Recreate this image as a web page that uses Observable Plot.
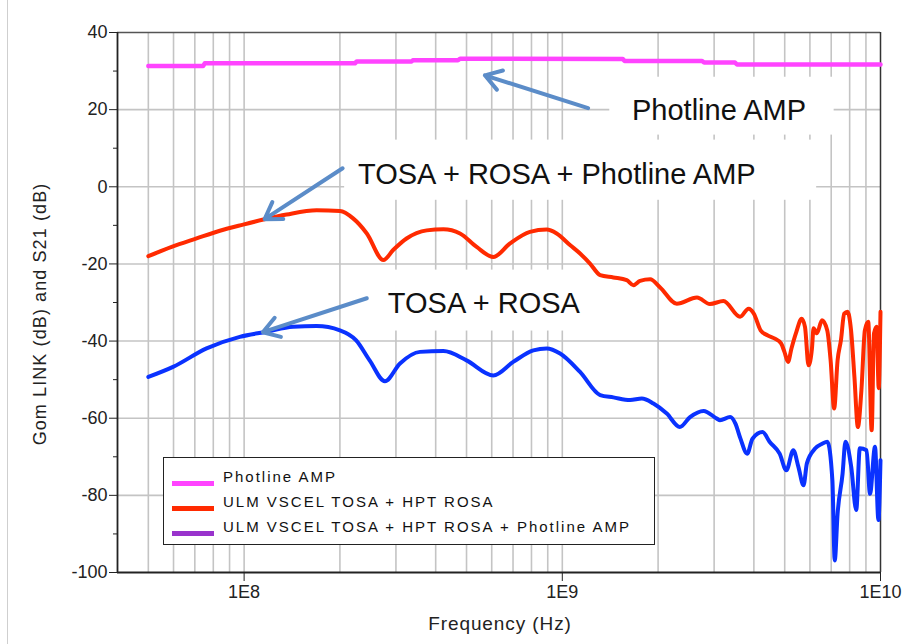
<!DOCTYPE html>
<html>
<head>
<meta charset="utf-8">
<script src="https://cdn.jsdelivr.net/npm/d3@7"></script>
<script src="https://cdn.jsdelivr.net/npm/@observablehq/plot@0.6"></script>
<style>
  html, body { margin: 0; padding: 0; background: #fff; }
  #wrap { position: relative; width: 905px; height: 644px; font-family: "Liberation Sans", Arial, sans-serif; }
  #edge { position: absolute; left: 7px; top: 0; width: 1px; height: 644px; background: #cfcfcf; }
  #legend { position: absolute; left: 163px; top: 457px; width: 492px; height: 88px; border: 1.5px solid #222; background: #fff; box-sizing: border-box; }
  .row { position: absolute; left: 0; height: 20px; }
  .sw { position: absolute; left: 8px; width: 42px; height: 5px; }
  .lt { position: absolute; left: 59px; top: -10px; font-size: 15px; letter-spacing: 2px; color: #111; white-space: nowrap; }
  #xlabel { position: absolute; left: 0; width: 1000px; top: 613px; text-align: center; font-size: 19px; letter-spacing: 0.9px; color: #222; }
  #ylabel { position: absolute; left: 40px; top: 314px; transform: translate(-50%,-50%) rotate(-90deg); font-size: 18px; letter-spacing: 1.1px; color: #222; white-space: nowrap; }
</style>
</head>
<body>
<div id="wrap">
  <div id="edge"></div>
  <div id="chart"></div>
  <div id="legend"></div>
  <div id="xlabel"></div>
  <div id="ylabel"></div>
</div>
<script>
// ---------- data (frequency Hz, dB) ----------
const photlineAmp = [
  [5.0e7, 31.3], [7.43e7, 31.3], [7.52e7, 32.0], [2.23e8, 32.0], [2.26e8, 32.5],
  [3.36e8, 32.5], [3.39e8, 32.8], [4.70e8, 32.8], [4.77e8, 33.2], [1.55e9, 33.1],
  [1.57e9, 32.6], [2.75e9, 32.6], [2.79e9, 32.2], [3.49e9, 32.2], [3.54e9, 31.7],
  [1.0e10, 31.7]
];
const tosaRosaAmp = [
  [5.0e7, -18.0], [5.92e7, -15.6], [7.09e7, -13.4], [8.39e7, -11.4], [9.93e7, -9.8],
  [1.15e8, -8.5], [1.36e8, -7.2], [1.69e8, -6.1], [2.0e8, -6.3], [2.2e8, -8.2],
  [2.43e8, -12.1], [2.74e8, -19.0], [2.94e8, -16.4], [3.24e8, -13.4], [3.75e8, -11.3],
  [4.23e8, -11.0], [4.77e8, -12.1], [5.38e8, -15.6], [6.07e8, -18.2], [6.85e8, -14.7],
  [7.91e8, -11.7], [8.93e8, -11.1], [9.6e8, -12.1], [1.057e9, -15.1], [1.137e9, -17.3],
  [1.222e9, -19.9], [1.315e9, -22.9], [1.447e9, -23.5], [1.594e9, -24.2], [1.673e9, -25.5],
  [1.755e9, -24.4], [1.888e9, -24.0], [2.03e9, -26.1], [2.29e9, -30.3], [2.65e9, -28.7],
  [2.91e9, -30.4], [3.21e9, -29.6], [3.62e9, -33.7], [3.85e9, -31.6], [4.0e9, -32.9],
  [4.2e9, -37.2], [4.41e9, -38.5], [4.64e9, -39.3], [4.87e9, -40.6], [4.99e9, -42.8],
  [5.12e9, -45.4], [5.25e9, -41.9], [5.44e9, -37.6], [5.65e9, -34.2], [5.79e9, -36.3],
  [5.94e9, -46.3], [6.09e9, -41.9], [6.16e9, -36.7], [6.31e9, -38.0], [6.55e9, -34.6],
  [6.8e9, -37.2], [6.97e9, -45.0], [7.15e9, -57.5], [7.33e9, -45.0], [7.51e9, -39.8],
  [7.69e9, -32.9], [7.88e9, -32.4], [8.08e9, -37.2], [8.28e9, -49.3], [8.49e9, -62.3],
  [8.71e9, -52.7], [8.93e9, -37.2], [9.15e9, -35.0], [9.38e9, -63.1], [9.54e9, -38.0],
  [9.73e9, -36.3], [9.87e9, -52.2], [1.0e10, -32.4]
];
const tosaRosa = [
  [5.0e7, -49.3], [5.98e7, -46.7], [7.62e7, -41.9], [9.69e7, -38.9], [1.175e8, -37.6],
  [1.425e8, -36.3], [1.69e8, -36.1], [2.0e8, -37.2], [2.25e8, -39.8], [2.48e8, -45.0],
  [2.77e8, -50.4], [3.09e8, -45.8], [3.57e8, -42.8], [4.23e8, -42.6], [5.0e8, -45.0],
  [6.07e8, -48.9], [7.01e8, -45.4], [8.11e8, -42.4], [8.93e8, -41.9], [9.84e8, -43.2],
  [1.137e9, -48.0], [1.315e9, -54.0], [1.447e9, -54.6], [1.633e9, -55.3], [1.778e9, -54.9],
  [1.934e9, -56.2], [2.13e9, -58.8], [2.34e9, -62.3], [2.52e9, -59.7], [2.78e9, -58.1],
  [3.06e9, -60.1], [3.13e9, -60.5], [3.37e9, -59.7], [3.5e9, -61.4], [3.63e9, -65.3],
  [3.81e9, -69.2], [3.96e9, -65.3], [4.26e9, -63.6], [4.48e9, -66.1], [4.82e9, -69.2],
  [5.06e9, -73.5], [5.32e9, -68.3], [5.52e9, -72.6], [5.73e9, -77.4], [5.87e9, -71.7],
  [6.24e9, -67.8], [6.56e9, -66.6], [6.81e9, -66.1], [7.06e9, -76.1], [7.18e9, -96.9],
  [7.33e9, -84.8], [7.6e9, -74.4], [7.76e9, -66.1], [8.09e9, -72.6], [8.39e9, -83.8],
  [8.61e9, -67.8], [9.04e9, -68.3], [9.27e9, -79.6], [9.61e9, -67.4], [9.85e9, -86.4],
  [1.0e10, -70.9]
];

// axis ticks
const xTickValues = [1e8, 1e9, 1e10];
const xTickLabels = ["1E8", "1E9", "1E10"];
const decades = [1e7, 1e8, 1e9];
const multipliers = [1, 2, 3, 4, 5, 6, 7, 8, 9];
const yMajorTicks = [-100, -80, -60, -40, -20, 0, 20, 40];
const yMinorTicks = [-90, -70, -50, -30, -10, 10, 30];
const yGridTicks = [-80, -60, -40, -20, 0, 20];

// legend
const legendLabels = ["Photline AMP", "ULM VSCEL TOSA  + HPT ROSA", "ULM VSCEL TOSA + HPT ROSA + Photline AMP"];
const legendColors = ["#ff44ff", "#ff2a00", "#9933cc"];

// annotations (in data coordinates)
const noteTexts = ["Photline AMP", "TOSA + ROSA + Photline AMP", "TOSA + ROSA"];
const noteX = [1.656e9, 2.28e8, 2.83e8];
const noteY = [17.3, 0.7, -32.7];
const noteBoxX1 = [1.41e9, 2.07e8, 2.07e8];
const noteBoxX2 = [7.15e9, 6.3e9, 1.41e9];
const noteBoxY1 = [28.4, 12.1, -21.6];
const noteBoxY2 = [13.4, -3.5, -37.4];
const arrowFromX = [1.205e9, 2.04e8, 2.43e8];
const arrowFromY = [20.4, 4.8, -28.9];
const arrowToX = [5.71e8, 1.16e8, 1.145e8];
const arrowToY = [28.9, -8.4, -37.7];

// ---------- build ----------
const toObj = (arr) => arr.map(([f, v]) => ({f, v}));
const gridXValues = decades.flatMap(d => multipliers.map(m => d * m)).filter(v => v > 4e7 && v < 1e10);
const notes = noteTexts.map((t, i) => ({
  t, x: noteX[i], y: noteY[i],
  bx1: noteBoxX1[i], bx2: noteBoxX2[i], by1: noteBoxY1[i], by2: noteBoxY2[i],
  ax1: arrowFromX[i], ay1: arrowFromY[i], ax2: arrowToX[i], ay2: arrowToY[i]
}));

const fontFamily = '"Liberation Sans", Arial, sans-serif';

const chart = Plot.plot({
  width: 905,
  height: 644,
  marginLeft: 117,
  marginRight: 25,
  marginTop: 32,
  marginBottom: 72,
  style: {fontFamily, background: "#fff", overflow: "visible"},
  x: {type: "log", domain: [4e7, 1e10]},
  y: {domain: [-100, 40]},
  marks: [
    Plot.gridX(gridXValues, {stroke: "#c4c4c4", strokeOpacity: 1, strokeWidth: 1.6}),
    Plot.gridY(yGridTicks, {stroke: "#c4c4c4", strokeOpacity: 1, strokeWidth: 1.6}),
    Plot.rect(notes, {x1: "bx1", x2: "bx2", y1: "by1", y2: "by2", fill: "#fff"}),
    Plot.ruleY([40], {stroke: "#555", strokeWidth: 1.5}),
    Plot.ruleX([1e10], {stroke: "#333", strokeWidth: 1.5}),
    Plot.line(toObj(photlineAmp), {x: "f", y: "v", stroke: "#ff44ff", strokeWidth: 4.5, strokeLinejoin: "round"}),
    Plot.line(toObj(tosaRosaAmp), {x: "f", y: "v", stroke: "#ff2a00", strokeWidth: 4, strokeLinejoin: "round", curve: "monotone-x"}),
    Plot.line(toObj(tosaRosa), {x: "f", y: "v", stroke: "#0a32ff", strokeWidth: 4, strokeLinejoin: "round", curve: "monotone-x"}),
    Plot.arrow(notes, {x1: "ax1", y1: "ay1", x2: "ax2", y2: "ay2", stroke: "#5b8cc8", strokeWidth: 4, headLength: 7, headAngle: 65}),
    Plot.text(notes, {x: "x", y: "y", text: "t", textAnchor: "start", lineAnchor: "bottom", fontSize: 29, fill: "#111", fontFamily}),
    Plot.ruleX([4e7], {stroke: "#222", strokeWidth: 1.8}),
    Plot.ruleY([-100], {stroke: "#222", strokeWidth: 1.8}),
    Plot.axisY(yMajorTicks, {tickSize: 8, tickPadding: 2, fontSize: 18, fill: "#222", stroke: "#222", tickFormat: d => String(d), label: null}),
    Plot.axisY(yMinorTicks, {tickSize: 4, tickFormat: () => "", stroke: "#222", label: null}),
    Plot.axisX(xTickValues, {tickSize: 9, tickPadding: 4, fontSize: 18, fill: "#222", stroke: "#222", tickFormat: (d) => xTickLabels[xTickValues.indexOf(d)], label: null})
  ]
});
document.getElementById("chart").appendChild(chart);

// legend rows
const legend = document.getElementById("legend");
legendLabels.forEach((lab, i) => {
  const row = document.createElement("div");
  row.className = "row";
  row.style.top = (20 + i * 25) + "px";
  row.style.width = "100%";
  const sw = document.createElement("div");
  sw.className = "sw";
  sw.style.background = legendColors[i];
  sw.style.top = "3px";
  const tx = document.createElement("div");
  tx.className = "lt";
  tx.textContent = lab;
  row.appendChild(sw);
  row.appendChild(tx);
  legend.appendChild(row);
});
document.getElementById("xlabel").textContent = "Frequency (Hz)";
document.getElementById("ylabel").textContent = "Gom LINK (dB) and S21 (dB)";
</script>
</body>
</html>
